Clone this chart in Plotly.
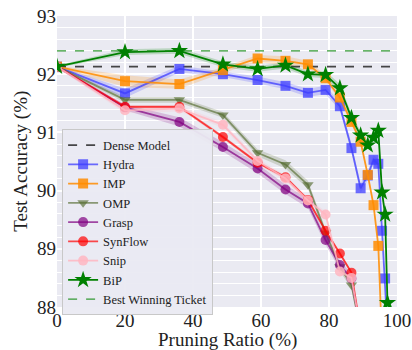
import plotly.graph_objects as go

# Pruning ratios (%) at each iterative pruning round
ratios = [0, 20, 36, 48.8, 59, 67.2, 73.8, 79, 83.2, 86.6, 89.3, 91.4, 93.1, 94.5, 95.6, 96.5, 97.2]

dense_acc = 92.13
best_ticket_acc = 92.40

hydra = [92.13, 91.67, 92.09, 92.00, 91.90, 91.80, 91.68, 91.73, 91.45, 90.73, 90.04, 90.26, 90.53, 90.46, 89.31, 88.49, 87.60]
hydra_std = [0.02, 0.08, 0.06, 0.05, 0.06, 0.06, 0.07, 0.07, 0.07, 0.08, 0.08, 0.08, 0.08, 0.08, 0.08, 0.08, 0.08]

imp = [92.13, 91.88, 91.83, 92.07, 92.27, 92.23, 92.17, 91.93, 91.60, 91.18, 90.84, 90.27, 89.75, 89.05, 87.40]
imp_std = [0.02, 0.10, 0.08, 0.05, 0.06, 0.08, 0.06, 0.05, 0.05, 0.05, 0.05, 0.05, 0.05, 0.05, 0.05]

omp = [92.13, 91.56, 91.56, 91.30, 90.65, 90.45, 90.10, 89.27, 88.69, 88.38, 87.60]
omp_std = [0.02, 0.05, 0.05, 0.05, 0.06, 0.07, 0.07, 0.07, 0.07, 0.07, 0.07]

grasp = [92.13, 91.43, 91.18, 90.75, 90.38, 90.02, 89.78, 89.15, 88.72, 88.49, 87.60]
grasp_std = [0.02, 0.05, 0.08, 0.08, 0.08, 0.08, 0.08, 0.08, 0.08, 0.08, 0.08]

synflow = [92.13, 91.44, 91.44, 90.92, 90.48, 90.23, 89.84, 89.31, 88.92, 88.59, 87.60]
synflow_std = [0.02, 0.03, 0.03, 0.03, 0.03, 0.03, 0.03, 0.03, 0.03, 0.03, 0.03]

snip = [92.13, 91.38, 91.41, 91.13, 90.51, 90.21, 89.83, 89.59, 88.61, 88.50, 87.60]
snip_std = [0.02, 0.05, 0.05, 0.05, 0.05, 0.05, 0.05, 0.05, 0.05, 0.05, 0.05]

bip = [92.13, 92.38, 92.40, 92.17, 92.09, 92.15, 92.00, 91.99, 91.76, 91.25, 90.95, 90.78, 90.91, 91.03, 89.97, 89.59, 88.07]
bip_std = [0.02, 0.05, 0.05, 0.05, 0.05, 0.05, 0.05, 0.06, 0.07, 0.07, 0.07, 0.07, 0.07, 0.08, 0.08, 0.08, 0.08]

methods = [
    ("Hydra", hydra, hydra_std, (60, 60, 255), 0.75, "square", 10),
    ("IMP", imp, imp_std, (255, 140, 0), 0.85, "square", 10),
    ("OMP", omp, omp_std, (85, 107, 47), 0.65, "triangle-down", 10),
    ("Grasp", grasp, grasp_std, (128, 0, 128), 0.7, "circle", 10),
    ("SynFlow", synflow, synflow_std, (255, 0, 0), 0.7, "circle", 10),
    ("Snip", snip, snip_std, (255, 182, 193), 0.85, "circle", 10),
    ("BiP", bip, bip_std, (0, 128, 0), 1.0, "star", 13),
]

FONT = "Liberation Serif, Times New Roman, serif"

fig = go.Figure()

# Shaded spread bands
for name, vals, std, rgb, a, sym, size in methods:
    xs = ratios[:len(vals)]
    upper = [v + s for v, s in zip(vals, std)]
    lower = [v - s for v, s in zip(vals, std)]
    fig.add_trace(go.Scatter(
        x=xs + xs[::-1], y=upper + lower[::-1],
        fill="toself", fillcolor="rgba(%d,%d,%d,0.2)" % rgb,
        line=dict(width=0), hoverinfo="skip", showlegend=False,
    ))

# Reference lines
fig.add_trace(go.Scatter(
    x=[0, 100], y=[dense_acc, dense_acc], mode="lines", name="Dense Model",
    line=dict(color="rgba(40,40,40,0.85)", width=1.8, dash="dash"),
))

for name, vals, std, rgb, a, sym, size in methods:
    col = "rgba(%d,%d,%d,%.2f)" % (rgb + (a,))
    fig.add_trace(go.Scatter(
        x=ratios[:len(vals)], y=vals, mode="lines+markers", name=name,
        line=dict(color=col, width=1.8),
        marker=dict(symbol=sym, size=size, color=col, line=dict(width=0)),
    ))

fig.add_trace(go.Scatter(
    x=[0, 100], y=[best_ticket_acc, best_ticket_acc], mode="lines",
    name="Best Winning Ticket",
    line=dict(color="rgba(20,140,20,0.85)", width=1.4, dash="dash"),
))

fig.update_layout(
    width=412, height=350,
    margin=dict(l=57, r=15, t=16, b=43),
    paper_bgcolor="white", plot_bgcolor="#EAEAF2",
    font=dict(family=FONT, size=19, color="#222222"),
    showlegend=True,
    legend=dict(
        x=0.015, y=0.61, xanchor="left", yanchor="top",
        bgcolor="rgba(234,234,242,0.95)", bordercolor="#C8C8C8", borderwidth=1,
        font=dict(family=FONT, size=12.5, color="#222222"),
        itemwidth=30, tracegroupgap=0,
    ),
    annotations=[
        dict(text="Pruning Ratio (%)", xref="paper", yref="paper",
             x=0.5, y=-0.113, xanchor="center", yanchor="middle", showarrow=False,
             font=dict(family=FONT, size=19, color="#222222")),
        dict(text="Test Accuracy (%)", xref="paper", yref="paper",
             x=-0.108, y=0.5, xanchor="center", yanchor="middle", showarrow=False,
             textangle=-90, font=dict(family=FONT, size=19, color="#222222")),
    ],
)
fig.update_xaxes(
    range=[0, 100], tickvals=[0, 20, 40, 60, 80, 100],
    showgrid=True, gridcolor="white", gridwidth=1.5, zeroline=False,
    showline=False, ticks="", ticklen=0, automargin=False,
)
fig.update_yaxes(
    range=[88, 93], tickvals=[88, 89, 90, 91, 92, 93],
    showgrid=True, gridcolor="white", gridwidth=1.5, zeroline=False,
    showline=False, ticks="", automargin=False,
    minor=dict(dtick=0.2, showgrid=True, gridcolor="white", gridwidth=0.8),
)

fig.write_html("out.html")
